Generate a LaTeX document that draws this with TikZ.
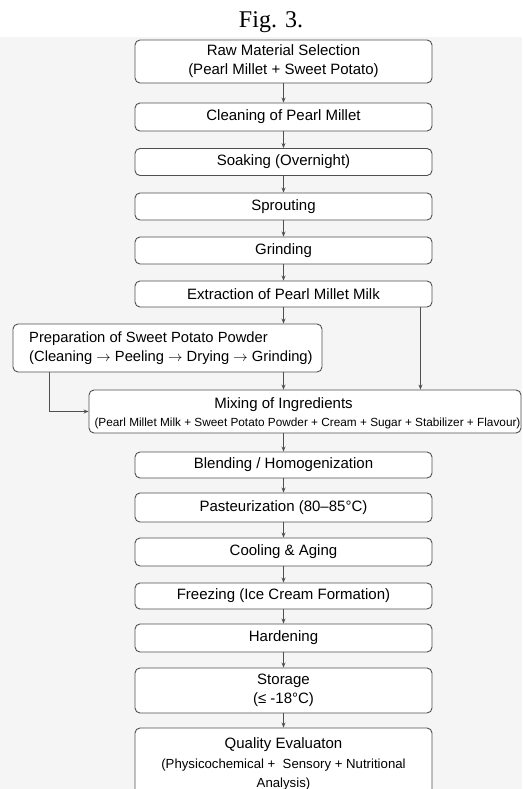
\documentclass[tikz,border=0pt]{standalone}
\usepackage{fontspec}
\setmainfont{Liberation Sans}
\newfontfamily\figfont{Liberation Serif}
\usetikzlibrary{arrows.meta}

\definecolor{pagegray}{HTML}{F5F5F5}
\definecolor{edgegray}{HTML}{505050}

\tikzset{
  box/.style={draw=edgegray, line width=0.9pt, rounded corners=5pt, fill=white,
    minimum width=297pt, inner sep=0pt, align=center,
    font=\fontsize{15}{19}\selectfont},
  flow/.style={draw=edgegray, line width=0.8pt, -{Stealth[length=5pt,width=4pt]}},
  bodytext/.style={font=\fontsize{15}{19.5}\selectfont},
  smalltext/.style={font=\fontsize{11.8}{14}\selectfont}
}

\begin{document}
\begin{tikzpicture}[x=1pt,y=-1pt]
        \useasboundingbox (0,0) rectangle (522,789);
        \clip (0,0) rectangle (522,789);
        \fill [pagegray] (0,37) rectangle (522,789);

        \node [font=\figfont\fontsize{24}{26}\selectfont] (fig) at (271,22) {Fig. 3.};

        \node [box, minimum height=43pt] (raw) at (283.5,61.5) {Raw Material Selection\\(Pearl Millet + Sweet Potato)};
        \node [box, minimum height=28pt] (clean) at (283.5,117) {Cleaning of Pearl Millet};
        \node [box, minimum height=27pt] (soak) at (283.5,162) {Soaking (Overnight)};
        \node [box, minimum height=27pt] (sprout) at (283.5,206.5) {Sprouting};
        \node [box, minimum height=27pt] (grind) at (283.5,250.5) {Grinding};
        \node [box, minimum height=26pt] (extract) at (283.5,294) {Extraction of Pearl Millet Milk};

        \node [box, minimum width=309pt, minimum height=48pt] (sweet) at (167.5,348) {};
        \node [font=\fontsize{14.75}{19.5}\selectfont, anchor=west, align=left, inner sep=0pt] (sweettext) at (29,348)
              {Preparation of Sweet Potato Powder\\(Cleaning \(\rightarrow\) Peeling \(\rightarrow\) Drying \(\rightarrow\) Grinding)};

        \node [box, minimum width=432pt, minimum height=43pt] (mix) at (305,411.5) {};
        \node [bodytext] (mixhead) at (283.5,405) {Mixing of Ingredients};
        \node [smalltext] (mixlist) at (307.5,423) {(Pearl Millet Milk + Sweet Potato Powder + Cream + Sugar + Stabilizer + Flavour)};

        \node [box, minimum height=26pt] (blend) at (283.5,465) {Blending / Homogenization};
        \node [box, minimum height=29pt] (pasteur) at (283.5,507.5) {Pasteurization (80--85\textdegree C)};
        \node [box, minimum height=28pt] (cool) at (283.5,552) {Cooling \& Aging};
        \node [box, minimum height=26pt] (freeze) at (283.5,596) {Freezing (Ice Cream Formation)};
        \node [box, minimum height=28pt] (harden) at (283.5,638) {Hardening};
        \node [box, minimum height=45pt] (store) at (283.5,690.5) {Storage\\(≤ -18\textdegree C)};
        \node [box, minimum height=72pt] (quality) at (283.5,764)
              {Quality Evaluaton\\[1pt]{\fontsize{13.2}{18}\selectfont (Physicochemical +\ \ Sensory + Nutritional}\\{\fontsize{13.2}{18}\selectfont Analysis)}};

        \coordinate (milkdrop) at ([xshift=-12pt]extract.south east);
        \coordinate (sweetout) at (extract.south |- sweet.south);
        \coordinate (sideout) at ([xshift=37pt]sweet.south west);

        \draw [flow] (raw) -- (clean);
        \draw [flow] (clean) -- (soak);
        \draw [flow] (soak) -- (sprout);
        \draw [flow] (sprout) -- (grind);
        \draw [flow] (grind) -- (extract);
        \draw [flow] (extract) -- (extract.south |- sweet.north);
        \draw [flow] (milkdrop) -- (milkdrop |- mix.north);
        \draw [flow] (sweetout) -- (sweetout |- mix.north);
        \draw [flow] (sideout) |- (mix.west);

        \draw [flow] (mix.south -| blend.north) -- (blend);
        \draw [flow] (blend) -- (pasteur);
        \draw [flow] (pasteur) -- (cool);
        \draw [flow] (cool) -- (freeze);
        \draw [flow] (freeze) -- (harden);
        \draw [flow] (harden) -- (store);
        \draw [flow] (store) -- (quality);
    \end{tikzpicture}
\end{document}
